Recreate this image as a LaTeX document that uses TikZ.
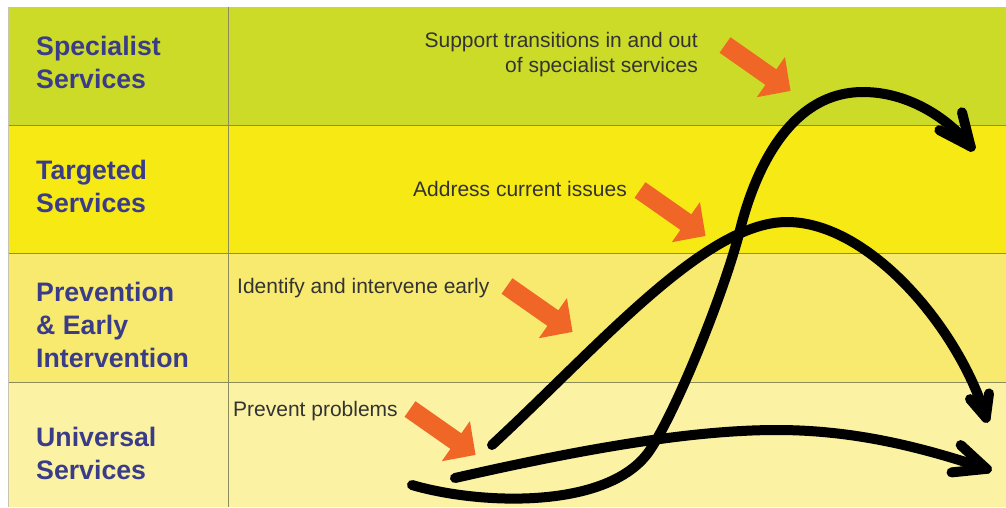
\documentclass[tikz,border=0pt]{standalone}
\usepackage{fontspec}
\setmainfont{Liberation Sans}
\usetikzlibrary{decorations.markings}
\definecolor{specgreen}{RGB}{204,219,40}
\definecolor{targyellow}{RGB}{246,233,20}
\definecolor{prevyellow}{RGB}{248,234,110}
\definecolor{univyellow}{RGB}{251,243,163}
\definecolor{levelblue}{RGB}{58,60,138}
\definecolor{nudgeorange}{RGB}{240,102,38}
\definecolor{bandrule}{RGB}{140,140,90}
\tikzset{level/.style={levelblue, font=\bfseries\fontsize{26.7}{33}\selectfont, align=left, anchor=north west, inner sep=0pt},
  note/.style={black!80, font=\fontsize{21}{25}\selectfont, inner sep=0pt},
  barb/.style={line width=10pt, line cap=round, line join=round},
  journey/.style={line width=10pt, line cap=round, postaction={decorate}, decoration={markings,
    mark=at position 0.999 with {\draw[barb] (-#1,-0.45*#1) -- (0,0) -- (-#1,0.45*#1);}}},
  journey/.default=32,
  nudge/.pic={\fill[nudgeorange] (0,-9.5) -- (56,-9.5) -- (56,-24.5) -- (80,0) -- (56,24.5) -- (56,9.5) -- (0,9.5) -- cycle;}}

\begin{document}
\begin{tikzpicture}[x=1pt, y=-1pt]
  \useasboundingbox (0,0) rectangle (1006,507);
  % bands
  \fill[specgreen]  (8,7)   rectangle (1006,125);
  \fill[targyellow] (8,125) rectangle (1006,253);
  \fill[prevyellow] (8,253) rectangle (1006,382);
  \fill[univyellow] (8,382) rectangle (1006,507);
  \foreach \y in {125,253,382}
   \draw[bandrule] (8,\y) -- (1006,\y);
  \draw[bandrule] (228,7) -- (228,507);
  \draw[bandrule!50] (8,7) -- (8,507);
  % levels
  \node[level] (specialist) at (36,36)  {Specialist\\Services};
  \node[level] (targeted)   at (36,160) {Targeted\\Services};
  \node[level] (prevention) at (36,282) {Prevention\\\& Early\\Intervention};
  \node[level] (universal)  at (36,427) {Universal\\Services};
  % notes
  \node[note, align=right, anchor=north east] (transitions) at (698,32) {Support transitions in and out\\of specialist services};
  \node[note, anchor=base west] (issues)  at (413,196) {Address current issues};
  \node[note, anchor=base west] (early)   at (237,293) {Identify and intervene early};
  \node[note, anchor=base west] (prevent) at (233,416) {Prevent problems};
  \pic[rotate=-35] at (725,45)  {nudge};
  \pic[rotate=-35] at (640,190) {nudge};
  \pic[rotate=-35] at (507,286) {nudge};
  \pic[rotate=-35] at (410,409) {nudge};
  % journeys
  \coordinate (startspec) at (412,485);
  \coordinate (endspec)   at (971,147);
  \coordinate (starttarg) at (492,445);
  \coordinate (endtarg)   at (986,418);
  \coordinate (startuniv) at (455,478);
  \coordinate (enduniv)   at (987,469);
  \draw[journey] (startuniv) .. controls (600,445) and (700,430) .. (777,430)
    .. controls (860,430) and (930,450) .. (enduniv);
  \draw[journey=22] (starttarg) .. controls (600,345) and (705,222) .. (787,222)
    .. controls (870,222) and (960,330) .. (endtarg);
  \draw[journey] (startspec) .. controls (480,505) and (610,510) .. (650,450)
    .. controls (677,410) and (725,290) .. (740,230)
    .. controls (755,170) and (790,92) .. (863,92)
    .. controls (910,92) and (950,120) .. (endspec);
\end{tikzpicture}
\end{document}
